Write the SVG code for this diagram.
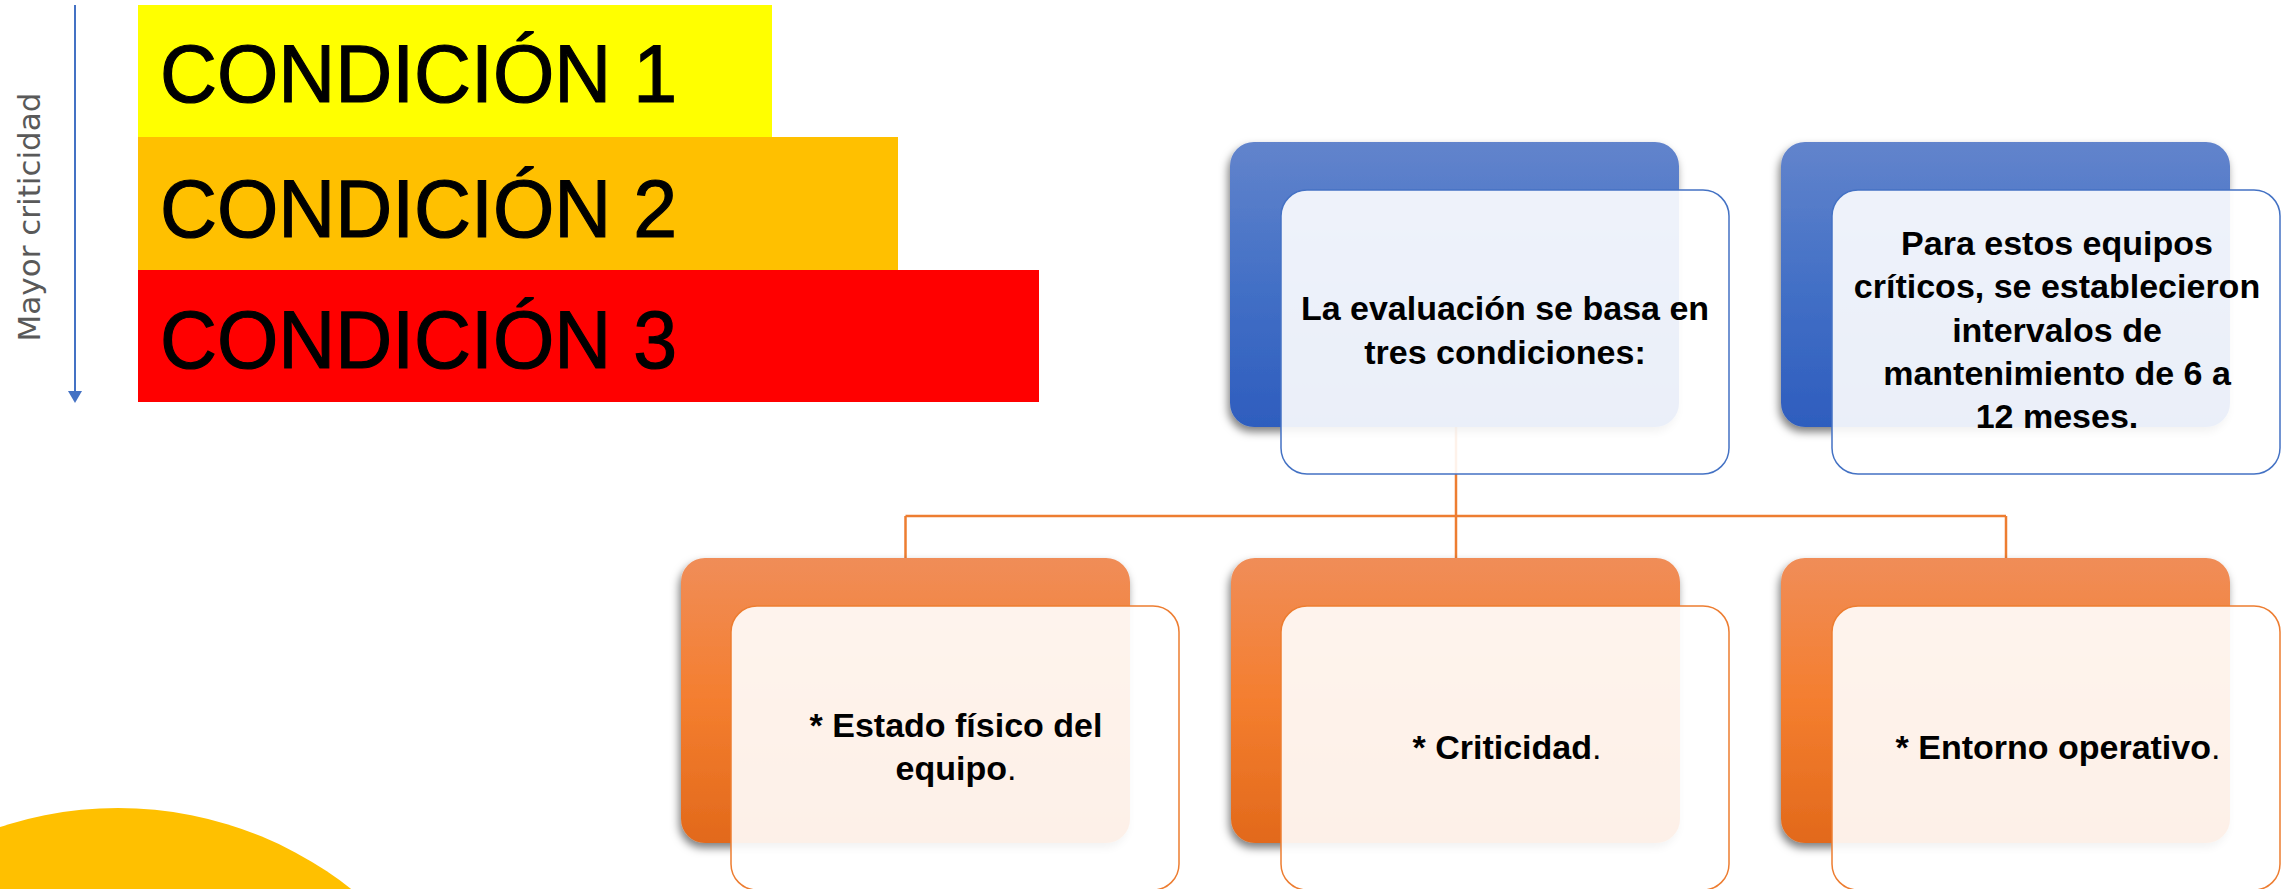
<svg xmlns="http://www.w3.org/2000/svg" width="2287" height="889" viewBox="0 0 2287 889">
  <style>
    .cond { font-family: "Liberation Sans", Arial, sans-serif; font-size: 82px; fill: #000; stroke: #000; stroke-width: 1.2; }
    .lbl { font-family: "Liberation Sans", Arial, sans-serif; font-size: 34px; font-weight: bold; fill: #000; text-anchor: middle; }
    .reg { font-weight: normal; }
    .back-b { fill: url(#gBlue); filter: url(#sh); }
    .back-o { fill: url(#gOrange); filter: url(#sh); }
    .front-b { fill: #fff; fill-opacity: 0.9; stroke: #4472C4; stroke-width: 1.5; }
    .front-o { fill: #fff; fill-opacity: 0.9; stroke: #ED7D31; stroke-width: 1.5; }
    .conn { fill: none; stroke: #ED7D31; stroke-width: 2.5; }
  </style>
  <defs>
    <linearGradient id="gBlue" x1="0" y1="0" x2="0" y2="1">
      <stop offset="0" stop-color="#6284CC"/>
      <stop offset="0.5" stop-color="#4370C6"/>
      <stop offset="1" stop-color="#2E5DBE"/>
    </linearGradient>
    <linearGradient id="gOrange" x1="0" y1="0" x2="0" y2="1">
      <stop offset="0" stop-color="#F08D58"/>
      <stop offset="0.5" stop-color="#F47E2F"/>
      <stop offset="1" stop-color="#E2691B"/>
    </linearGradient>
    <filter id="sh" x="-10%" y="-10%" width="120%" height="125%">
      <feDropShadow dx="-2" dy="5" stdDeviation="4" flood-color="#000" flood-opacity="0.5"/>
    </filter>
  </defs>
  <rect width="2287" height="889" fill="#fff"/>

  <!-- decorative yellow circle -->
  <circle cx="118" cy="1184" r="376" fill="#FFC000"/>

  <!-- criticality scale -->
  <g id="scale">
    <rect x="138" y="5" width="634" height="132" fill="#FFFF00"/>
    <rect x="138" y="137" width="760" height="133" fill="#FFC000"/>
    <rect x="138" y="270" width="901" height="132" fill="#FF0000"/>
    <text class="cond" x="160" y="102" textLength="517" lengthAdjust="spacingAndGlyphs">CONDICIÓN 1</text>
    <text class="cond" x="160" y="237" textLength="517" lengthAdjust="spacingAndGlyphs">CONDICIÓN 2</text>
    <text class="cond" x="160" y="368" textLength="517" lengthAdjust="spacingAndGlyphs">CONDICIÓN 3</text>
    <line x1="75" y1="5" x2="75" y2="392" stroke="#4472C4" stroke-width="2"/>
    <polygon points="68,391 82,391 75,403" fill="#4472C4"/>
    <text transform="translate(40,217) rotate(-90)" text-anchor="middle" font-family="'DejaVu Sans', sans-serif" font-size="31" fill="#595959">Mayor criticidad</text>
  </g>

  <!-- connectors -->
  <g id="connectors">
    <path class="conn" d="M1456,427 V516"/>
    <path class="conn" d="M905.5,516 H2006"/>
    <path class="conn" d="M905.5,516 V558 M1456,516 V558 M2006,516 V558"/>
  </g>

  <!-- top blue nodes -->
  <g id="node-evaluacion">
    <rect class="back-b" x="1230" y="142" width="449" height="285" rx="24"/>
    <rect class="front-b" x="1281" y="190" width="448" height="284" rx="26"/>
    <text class="lbl" x="1505" y="320">La evaluación se basa en</text>
    <text class="lbl" x="1505" y="364">tres condiciones:</text>
  </g>
  <g id="node-intervalos">
    <rect class="back-b" x="1781" y="142" width="449" height="285" rx="24"/>
    <rect class="front-b" x="1832" y="190" width="448" height="284" rx="26"/>
    <text class="lbl" x="2057" y="255">Para estos equipos</text>
    <text class="lbl" x="2057" y="298">críticos, se establecieron</text>
    <text class="lbl" x="2057" y="342">intervalos de</text>
    <text class="lbl" x="2057" y="385">mantenimiento de 6 a</text>
    <text class="lbl" x="2057" y="428">12 meses.</text>
  </g>

  <!-- bottom orange nodes -->
  <g id="node-estado">
    <rect class="back-o" x="681" y="558" width="449" height="285" rx="24"/>
    <rect class="front-o" x="731" y="606" width="448" height="284" rx="26"/>
    <text class="lbl" x="956" y="737">* Estado físico del</text>
    <text class="lbl" x="956" y="780">equipo<tspan class="reg">.</tspan></text>
  </g>
  <g id="node-criticidad">
    <rect class="back-o" x="1231" y="558" width="449" height="285" rx="24"/>
    <rect class="front-o" x="1281" y="606" width="448" height="284" rx="26"/>
    <text class="lbl" x="1507" y="759">* Criticidad<tspan class="reg">.</tspan></text>
  </g>
  <g id="node-entorno">
    <rect class="back-o" x="1781" y="558" width="449" height="285" rx="24"/>
    <rect class="front-o" x="1832" y="606" width="448" height="284" rx="26"/>
    <text class="lbl" x="2058" y="759">* Entorno operativo<tspan class="reg">.</tspan></text>
  </g>
</svg>
